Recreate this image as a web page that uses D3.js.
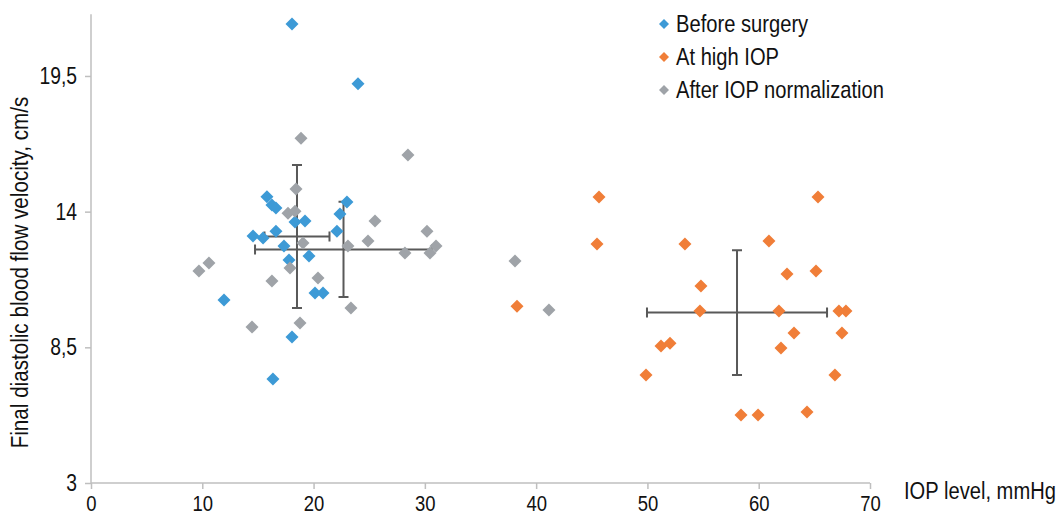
<!DOCTYPE html>
<html>
<head>
<meta charset="utf-8">
<script src="https://cdn.jsdelivr.net/npm/d3@7"></script>
<style>
  body { margin: 0; background: #fff; }
  text { font-family: "Liberation Sans Narrow", "Arial Narrow", "Liberation Sans", Arial, sans-serif; fill: #111; }
</style>
</head>
<body>
<div id="chart"></div>
<script>
const width = 1059,
    height = 516

// series: [IOP level, velocity]
const beforeSurgery = [
    [18.06, 21.61], [23.99, 19.18], [15.81, 14.60], [16.26, 14.27], [16.62, 14.15],
    [18.33, 13.58], [19.23, 13.62], [23.00, 14.39], [22.37, 13.90], [22.10, 13.21],
    [16.62, 13.21], [14.56, 13.01], [15.46, 12.93], [17.34, 12.61], [17.79, 12.04],
    [19.59, 12.20], [20.13, 10.70], [20.85, 10.70], [11.95, 10.42], [18.06, 8.92],
    [16.35, 7.22]
]
const atHighIOP = [
    [45.65, 14.59], [65.33, 14.59], [45.47, 12.69], [53.37, 12.69], [60.92, 12.81],
    [62.54, 11.47], [65.15, 11.59], [54.81, 10.99], [38.28, 10.17], [54.72, 9.97],
    [61.82, 9.97], [67.21, 9.97], [67.84, 9.97], [63.17, 9.08], [67.48, 9.08],
    [51.22, 8.55], [52.03, 8.67], [62.00, 8.47], [49.87, 7.38], [66.85, 7.38],
    [58.41, 5.76], [59.94, 5.76], [64.34, 5.88]
]
const afterNormalization = [
    [18.87, 16.98], [28.48, 16.30], [18.42, 14.92], [17.70, 13.94], [18.33, 14.02],
    [19.05, 12.73], [23.09, 12.61], [25.52, 13.62], [24.89, 12.81], [30.19, 13.21],
    [31.00, 12.61], [30.46, 12.32], [28.21, 12.32], [10.60, 11.92], [9.70, 11.59],
    [17.88, 11.72], [16.26, 11.19], [20.40, 11.31], [23.36, 10.09], [18.78, 9.49],
    [14.47, 9.32], [38.10, 12.00], [41.15, 10.01]
]

// mean +- sd: [x, y, xErr, yErr]
const meanBars = [
    [18.51, 12.99, 2.92, 2.90],
    [58.05, 9.91, 8.09, 2.53],
    [22.69, 12.47, 7.95, 1.93]
]

const seriesNames = ["Before surgery", "At high IOP", "After IOP normalization"]
const seriesColors = ["#3d9ad6", "#f07e38", "#9fa3a8"]
const xTicks = [0, 10, 20, 30, 40, 50, 60, 70]
const yTicks = [3, 8.5, 14, 19.5]

const svg = d3.select("#chart").append("svg")
    .attr("width", width)
    .attr("height", height)

const x = d3.scaleLinear().domain([0, 70]).range([91, 870])
const y = d3.scaleLinear().domain([3, 22]).range([483, 14.3])

const axisColor = "#bfbfbf"
const squeeze = 0.84 // no narrow font installed, so squash the text
const fmt = d => String(d).replace(".", ",")

// y axis
const yAxis = svg.append("g")
    .attr("transform", `translate(${x(0)},0)`)
    .call(d3.axisLeft(y).tickValues(yTicks).tickFormat(fmt).tickSize(6).tickPadding(8))
yAxis.select(".domain").attr("stroke", axisColor).attr("stroke-width", 1.5).attr("d", `M0,${y(3)}V${y(22)}`)
yAxis.selectAll(".tick line").attr("stroke", axisColor).attr("stroke-width", 1.5)
yAxis.selectAll(".tick text")
    .attr("font-size", 23).attr("font-family", null).attr("fill", "#111")
    .attr("x", -14 / squeeze)
    .attr("transform", `scale(${squeeze},1)`)

// x axis
const xAxis = svg.append("g")
    .attr("transform", `translate(0,${y(3)})`)
    .call(d3.axisBottom(x).tickValues(xTicks).tickSize(6).tickPadding(6))
xAxis.select(".domain").attr("stroke", axisColor).attr("stroke-width", 1.5).attr("d", `M${x(0)},0H${x(70)}`)
xAxis.selectAll(".tick line").attr("stroke", axisColor).attr("stroke-width", 1.5)
xAxis.selectAll(".tick text")
    .attr("font-size", 22).attr("font-family", null).attr("fill", "#111")
    .attr("transform", `scale(${squeeze},1)`)

// axis titles
svg.append("text")
    .attr("transform", `translate(904,499) scale(${squeeze},1)`)
    .attr("font-size", 24)
    .text("IOP level, mmHg")

svg.append("text")
    .attr("transform", `translate(28,272.5) rotate(-90) scale(0.86,1)`)
    .attr("text-anchor", "middle")
    .attr("font-size", 24)
    .text("Final diastolic blood flow velocity, cm/s")

// error bars (mean +- sd)
const barColor = "#595959"
const cap = 5
const bars = svg.append("g").attr("stroke", barColor).attr("stroke-width", 2).attr("fill", "none")
meanBars.forEach(d => {
    const [mx, my, ex, ey] = d
    bars.append("path").attr("d",
        `M${x(mx - ex)},${y(my)}H${x(mx + ex)}` +
        `M${x(mx - ex)},${y(my) - cap}V${y(my) + cap}` +
        `M${x(mx + ex)},${y(my) - cap}V${y(my) + cap}`)
    bars.append("path").attr("d",
        `M${x(mx)},${y(my - ey)}V${y(my + ey)}` +
        `M${x(mx) - cap},${y(my - ey)}H${x(mx) + cap}` +
        `M${x(mx) - cap},${y(my + ey)}H${x(mx) + cap}`)
})

const diamond = r => `M0,${-r}L${r},0L0,${r}L${-r},0Z`

// points
const allSeries = [beforeSurgery, atHighIOP, afterNormalization]
allSeries.forEach((data, i) => {
    svg.append("g").selectAll("path")
        .data(data)
        .join("path")
        .attr("d", diamond(6.5))
        .attr("transform", d => `translate(${x(d[0])},${y(d[1])})`)
        .attr("fill", seriesColors[i])
})

// legend
const legend = svg.append("g").attr("transform", "translate(664,24)")
seriesNames.forEach((name, i) => {
    const row = legend.append("g").attr("transform", `translate(0,${i * 33})`)
    row.append("path").attr("d", diamond(5)).attr("fill", seriesColors[i])
    row.append("text")
        .attr("transform", `translate(12,8) scale(${squeeze},1)`)
        .attr("font-size", 24)
        .text(name)
})
</script>
</body>
</html>
